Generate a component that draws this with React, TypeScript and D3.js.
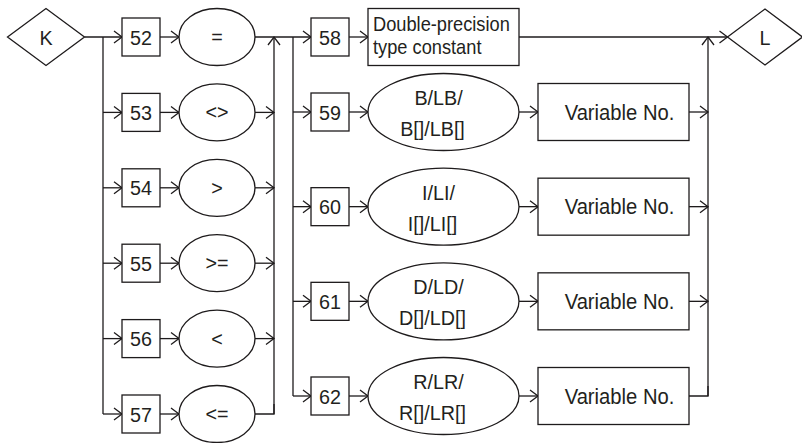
import React from "react";
import * as d3 from "d3";

const leftIds = ["52", "53", "54", "55", "56", "57"];
const leftOps = ["=", "<>", ">", ">=", "<", "<="];
const rightIds = ["58", "59", "60", "61", "62"];
const rightTypes = [
  ["Double-precision", "type constant"],
  ["B/LB/", "B[]/LB[]"],
  ["I/LI/", "I[]/LI[]"],
  ["D/LD/", "D[]/LD[]"],
  ["R/LR/", "R[]/LR[]"],
];
const varLabel = "Variable No.";
const startLabel = "K";
const endLabel = "L";

const W = 802;
const H = 443;
const INK = "#1e1b1c";
const TXT = "#231f20";
const SW = 1.3;
const FONT = "'Liberation Sans', Arial, sans-serif";

const leftY = d3.scaleLinear().domain([0, leftIds.length - 1]).range([37, 414]);
const rightYs = d3.scaleLinear().domain([1, rightIds.length - 1]).range([112, 396]);
const rightY = (j: number) => (j === 0 ? 37 : rightYs(j));

const line = d3.line<[number, number]>();

function T({
  x, y, size = 21, sx = 0.94, anchor = "middle", children,
}: { x: number; y: number; size?: number; sx?: number; anchor?: string; children: React.ReactNode }) {
  return (
    <text
      transform={`translate(${x},${y}) scale(${sx},1)`}
      textAnchor={anchor as any}
      fontSize={size}
      fill={TXT}
    >
      {children}
    </text>
  );
}

function ArrowR({ x, y }: { x: number; y: number }) {
  return (
    <path d={line([[x - 8, y - 6], [x, y], [x - 8, y + 6]]) || ""} fill="none" stroke={INK} strokeWidth={SW} />
  );
}
function ArrowU({ x, y }: { x: number; y: number }) {
  return (
    <path d={line([[x - 6, y + 8], [x, y], [x + 6, y + 8]]) || ""} fill="none" stroke={INK} strokeWidth={SW} />
  );
}
function L({ pts }: { pts: [number, number][] }) {
  return <path d={line(pts) || ""} fill="none" stroke={INK} strokeWidth={SW} />;
}
function Diamond({ cx, cy, hw, hh, label }: { cx: number; cy: number; hw: number; hh: number; label: string }) {
  return (
    <g>
      <path
        d={(line([[cx - hw, cy], [cx, cy - hh], [cx + hw, cy], [cx, cy + hh]]) || "") + "Z"}
        fill="#fff"
        stroke={INK}
        strokeWidth={SW}
      />
      <T x={cx} y={cy + 7.5}>{label}</T>
    </g>
  );
}

export default function App() {
  const xK = 46, xL = 765;
  const xSplitL = 103, xBoxL = 122, boxS = 38, xEllL = 217, rxL = 38, ryL = 28.5;
  const xJoinL = 274, xSplitR = 293, xBoxR = 311, xEllR = 443.5, rxR = 75.5, ryR = 38.5;
  const xEllRL = 368, xVar = 538, varW = 151, varH = 57, xJoinR = 708;
  const xLeftTip = xL - 37.5;

  return (
    <svg
      width={W}
      height={H}
      style={{ position: "absolute", left: 0, top: 0, background: "#fff" }}
      fontFamily={FONT}
    >
      <rect x={0} y={0} width={W} height={H} fill="#fff" />
      <L pts={[[xSplitL, leftY(0)], [xSplitL, leftY(5)]]} />
      <L pts={[[xJoinL, leftY(0)], [xJoinL, leftY(5)]]} />
      <L pts={[[xSplitR, rightY(0)], [xSplitR, rightY(4)]]} />
      <L pts={[[xJoinR, rightY(0)], [xJoinR, rightY(4)]]} />

      <L pts={[[xK + 38.5, leftY(0)], [xBoxL, leftY(0)]]} />

      {leftIds.map((id, i) => {
        const y = leftY(i);
        const last = i === leftIds.length - 1;
        return (
          <g key={id}>
            {i > 0 && <L pts={[[xSplitL, y], [xBoxL, y]]} />}
            <ArrowR x={xBoxL} y={y} />
            <rect x={xBoxL} y={y - boxS / 2} width={boxS} height={boxS} fill="#fff" stroke={INK} strokeWidth={SW} />
            <T x={xBoxL + boxS / 2} y={y + 7.5}>{id}</T>
            <L pts={[[xBoxL + boxS, y], [xEllL - rxL, y]]} />
            <ArrowR x={xEllL - rxL} y={y} />
            <ellipse cx={xEllL} cy={y} rx={rxL} ry={ryL} fill="#fff" stroke={INK} strokeWidth={SW} />
            <T x={xEllL} y={y + 7}>{leftOps[i]}</T>
            {i === 0 ? (
              <>
                <L pts={[[xEllL + rxL, y], [xBoxR, y]]} />
                <ArrowU x={xJoinL} y={y} />
              </>
            ) : last ? (
              <L pts={[[xEllL + rxL, y], [xJoinL, y], [xJoinL, y - 10]]} />
            ) : (
              <>
                <L pts={[[xEllL + rxL, y], [xJoinL, y]]} />
                <ArrowR x={xJoinL} y={y} />
              </>
            )}
          </g>
        );
      })}

      {rightIds.map((id, j) => {
        const y = rightY(j);
        const last = j === rightIds.length - 1;
        const lines = rightTypes[j];
        return (
          <g key={id}>
            {j > 0 && <L pts={[[xSplitR, y], [xBoxR, y]]} />}
            <ArrowR x={xBoxR} y={y} />
            <rect x={xBoxR} y={y - boxS / 2} width={boxS} height={boxS} fill="#fff" stroke={INK} strokeWidth={SW} />
            <T x={xBoxR + boxS / 2} y={y + 7.5}>{id}</T>
            <L pts={[[xBoxR + boxS, y], [xEllRL, y]]} />
            <ArrowR x={xEllRL} y={y} />
            {j === 0 ? (
              <>
                <rect x={xEllRL} y={y - 28.5} width={151} height={57} fill="#fff" stroke={INK} strokeWidth={SW} />
                <T x={xEllRL + 5} y={y - 6} size={20.5} sx={0.89} anchor="start">{lines[0]}</T>
                <T x={xEllRL + 5} y={y + 17} size={20.5} sx={0.89} anchor="start">{lines[1]}</T>
                <L pts={[[xEllRL + 151, y], [xLeftTip, y]]} />
                <ArrowR x={xLeftTip} y={y} />
                <ArrowU x={xJoinR} y={y} />
              </>
            ) : (
              <>
                <ellipse cx={xEllR} cy={y} rx={rxR} ry={ryR} fill="#fff" stroke={INK} strokeWidth={SW} />
                <T x={xEllR - 5} y={y - 7}>{lines[0]}</T>
                <T x={xEllR - 11} y={y + 24}>{lines[1]}</T>
                <L pts={[[xEllR + rxR, y], [xVar, y]]} />
                <ArrowR x={xVar} y={y} />
                <rect x={xVar} y={y - varH / 2} width={varW} height={varH} fill="#fff" stroke={INK} strokeWidth={SW} />
                <T x={xVar + varW / 2 + 6} y={y + 7.5} size={21.5}>{varLabel}</T>
                {last ? (
                  <L pts={[[xVar + varW, y], [xJoinR, y], [xJoinR, y - 10]]} />
                ) : (
                  <>
                    <L pts={[[xVar + varW, y], [xJoinR, y]]} />
                    <ArrowR x={xJoinR} y={y} />
                  </>
                )}
              </>
            )}
          </g>
        );
      })}

      <Diamond cx={xK} cy={leftY(0)} hw={38.5} hh={28.5} label={startLabel} />
      <Diamond cx={xL} cy={rightY(0)} hw={37.5} hh={28} label={endLabel} />
    </svg>
  );
}
